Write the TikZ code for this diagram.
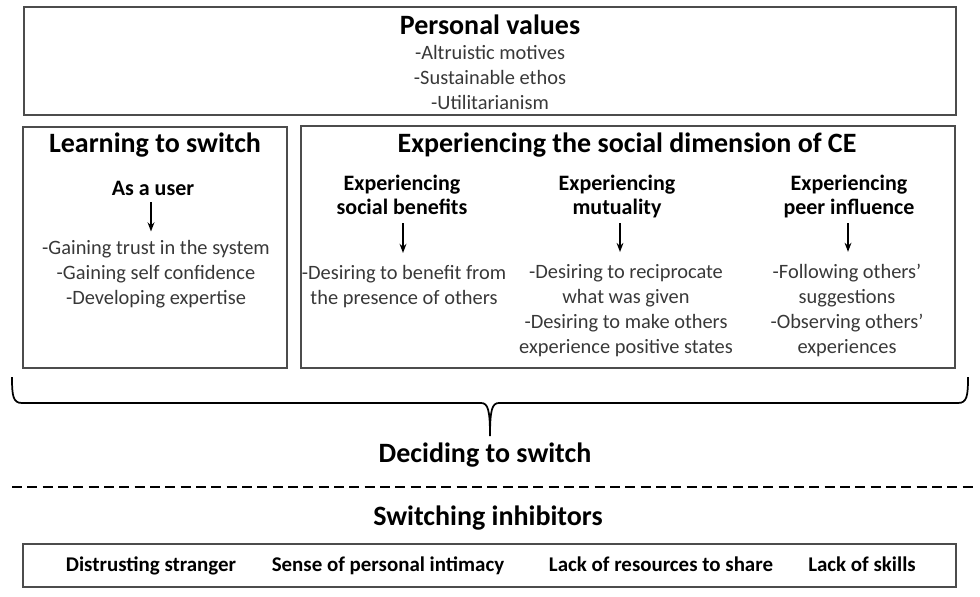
\documentclass[tikz,border=0pt]{standalone}
\usepackage{fontspec}
\setmainfont{Carlito}
\usepackage{tikz}
\usetikzlibrary{arrows.meta,positioning}

\tikzset{
  frame/.style={draw=black!70, line width=0.9pt},
  head/.style={font=\fontsize{21}{24}\selectfont\bfseries},
  subhead/.style={font=\fontsize{16.5}{18}\selectfont\bfseries, align=center,
    execute at begin node=\strut, execute at end node=\strut},
  items/.style={font=\fontsize{15.3}{18.75}\selectfont, text=black!78, align=center,
    execute at begin node=\strut, execute at end node=\strut},
  inhib/.style={font=\fontsize{15.7}{18}\selectfont\bfseries, anchor=base},
  down/.style={-{Stealth[length=2.4mm,width=1.8mm]}, line width=1.1pt},
}

\begin{document}
\begin{tikzpicture}[x=0.75pt, y=-0.75pt]
    \useasboundingbox (0,0) rectangle (980,596);

    % personal values
    \draw[frame] (24,7) rectangle (956,115);
    \node[head] (values) at (490,25) {Personal values};
    \node[items] (valuelist) at (490,81)
      {-Altruistic motives\\-Sustainable ethos\\-Utilitarianism};

    % learning to switch
    \draw[frame] (23,127) rectangle (287,368);
    \node[head] (learn) at (155,145) {Learning to switch};
    \node[subhead] (user) at (153,191) {As a user};
    \node[items] (userlist) at (156,276)
      {-Gaining trust in the system\\-Gaining self confidence\\-Developing expertise};
    \draw[down, shorten <=-4pt, shorten >=3pt] (user.south -| 151,0) -- (151,0 |- userlist.north);

    % social dimension
    \draw[frame] (301,126) rectangle (955,368);
    \node[head] (social) at (627,145) {Experiencing the social dimension of CE};
    \node[subhead] (benefit) at (402,198) {Experiencing\\social benefits};
    \node[subhead] (mutual) at (617,198) {Experiencing\\mutuality};
    \node[subhead] (peer) at (849,198) {Experiencing\\peer influence};
    \node[items] (benefitlist) at (404,289)
      {-Desiring to benefit from\\the presence of others};
    \node[items] (mutuallist) at (626,313)
      {-Desiring to reciprocate\\what was given\\-Desiring to make others\\experience positive states};
    \node[items] (peerlist) at (847,313)
      {-Following others'\\suggestions\\-Observing others'\\experiences};
    \draw[down, shorten <=-2pt, shorten >=6pt] (benefit.south -| 403,0) -- (403,0 |- benefitlist.north);
    \draw[down, shorten <=-2pt, shorten >=6pt] (mutual.south -| 620,0) -- (620,0 |- mutuallist.north);
    \draw[down, shorten <=-2pt, shorten >=6pt] (peer.south -| 848,0) -- (848,0 |- peerlist.north);

    % brace
    \draw[line width=1.3pt] (12,377) .. controls (12,396) and (13,403) .. (22,403)
      -- (481,403) .. controls (488,403) and (490,410) .. (490,436)
      .. controls (490,410) and (492,403) .. (499,403)
      -- (958,403) .. controls (967,403) and (968,396) .. (968,377);
    \node[head] (decide) at (485,455) {Deciding to switch};

    \draw[line width=1.5pt, dash pattern=on 7.5pt off 4pt] (12,487) -- (975,487);

    % inhibitors
    \node[head] (inhibitors) at (488,518) {Switching inhibitors};
    \draw[frame] (23,544) rectangle (956,587);
    \foreach \x/\txt [count=\i] in {151/Distrusting stranger, 388/Sense of personal intimacy,
        661/Lack of resources to share, 862/Lack of skills}
      \node[inhib] (inh\i) at (\x,571) {\txt};
  \end{tikzpicture}
\end{document}
